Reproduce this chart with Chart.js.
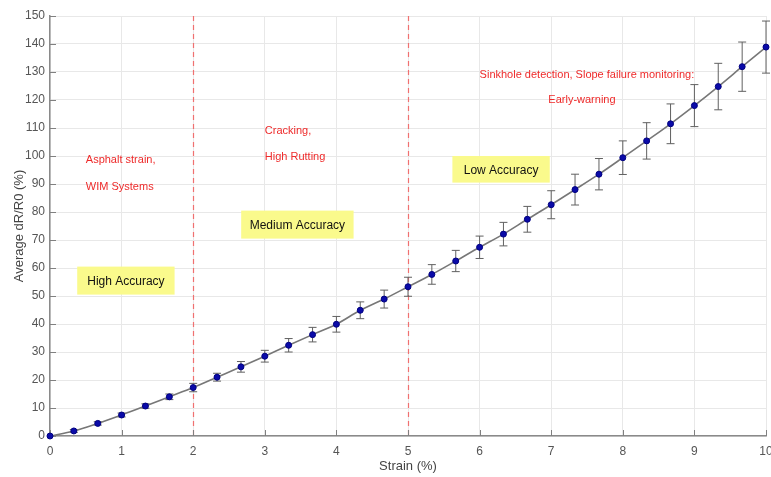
<!DOCTYPE html>
<html>
<head>
<meta charset="utf-8">
<script src="https://cdn.jsdelivr.net/npm/chart.js@4/dist/chart.umd.min.js"></script>
<style>
  html, body { margin: 0; padding: 0; background: #fff; }
  #wrap { width: 771px; height: 477px; }
</style>
</head>
<body>
<div id="wrap"><canvas id="chart1" width="771" height="477"></canvas></div>
<script>
// values
var strain = [0, 0.333, 0.667, 1, 1.333, 1.667, 2, 2.333, 2.667, 3, 3.333, 3.667, 4, 4.333, 4.667,
    5, 5.333, 5.667, 6, 6.333, 6.667, 7, 7.333, 7.667, 8, 8.333, 8.667, 9, 9.333, 9.667, 10];
var avgResistance = [0, 1.8, 4.5, 7.5, 10.7, 14, 17.3, 21, 24.7, 28.5, 32.4, 36.2, 39.9, 44.9, 48.9,
    53.3, 57.7, 62.5, 67.4, 72.1, 77.4, 82.6, 88, 93.5, 99.4, 105.4, 111.5, 118, 124.8, 131.9, 138.9];
var errHalf = [0, 0.5, 0.6, 0.7, 0.8, 1.0, 1.5, 1.4, 1.9, 2.1, 2.4, 2.6, 2.8, 3.0, 3.2,
    3.4, 3.5, 3.8, 4.0, 4.2, 4.6, 5.0, 5.5, 5.6, 6.0, 6.5, 7.1, 7.5, 8.3, 8.8, 9.3];
var xTicks = [0, 1, 2, 3, 4, 5, 6, 7, 8, 9, 10];
var yTicks = [0, 10, 20, 30, 40, 50, 60, 70, 80, 90, 100, 110, 120, 130, 140, 150];
var zoneLimits = [2, 5];

// annotations: [text, x, y] in data units
var redNotes = [
    ['Asphalt strain,', 0.5, 98.5],
    ['WIM Systems', 0.5, 89],
    ['Cracking,', 3.0, 109],
    ['High Rutting', 3.0, 99.5],
    ['Sinkhole detection, Slope failure monitoring:', 6.0, 129],
    ['Early-warning', 6.96, 120]
];
var boxNotes = [
    ['High Accuracy', 0.38, 1.74, 50.5, 60.5],
    ['Medium Accuracy', 2.67, 4.24, 70.5, 80.5],
    ['Low Accuracy', 5.62, 6.98, 90.5, 100]
];

var points = strain.map(function(s, i) { return { x: s, y: avgResistance[i] }; });

var extrasPlugin = {
    id: 'extras',
    beforeDatasetsDraw: function(chart) {
        var c = chart.ctx, xs = chart.scales.x, ys = chart.scales.y, a = chart.chartArea;
        c.save();
        // yellow boxes
        boxNotes.forEach(function(b) {
            var x0 = xs.getPixelForValue(b[1]), x1 = xs.getPixelForValue(b[2]);
            var y0 = ys.getPixelForValue(b[4]), y1 = ys.getPixelForValue(b[3]);
            c.fillStyle = '#fafa8c';
            c.fillRect(x0, y0, x1 - x0, y1 - y0);
            c.fillStyle = '#111';
            c.font = '12px "Liberation Sans", Arial, sans-serif';
            c.textAlign = 'center';
            c.textBaseline = 'middle';
            c.fillText(b[0], (x0 + x1) / 2, (y0 + y1) / 2 + 1);
        });
        // zone limits
        c.strokeStyle = '#f07070';
        c.lineWidth = 1.2;
        c.setLineDash([5, 4]);
        zoneLimits.forEach(function(v) {
            var px = Math.round(xs.getPixelForValue(v)) + 0.5;
            c.beginPath();
            c.moveTo(px, a.top);
            c.lineTo(px, a.bottom);
            c.stroke();
        });
        c.setLineDash([]);
        // inward tick marks
        c.strokeStyle = '#808080';
        c.lineWidth = 1;
        xTicks.forEach(function(v) {
            var px = Math.round(xs.getPixelForValue(v)) + 0.5;
            c.beginPath(); c.moveTo(px, a.bottom); c.lineTo(px, a.bottom - 6); c.stroke();
        });
        yTicks.forEach(function(v) {
            var py = Math.round(ys.getPixelForValue(v)) + 0.5;
            c.beginPath(); c.moveTo(a.left, py); c.lineTo(a.left + 6, py); c.stroke();
        });
        // red notes
        c.fillStyle = '#ee2a2a';
        c.font = '11px "Liberation Sans", Arial, sans-serif';
        c.textAlign = 'left';
        c.textBaseline = 'middle';
        redNotes.forEach(function(n) {
            c.fillText(n[0], xs.getPixelForValue(n[1]), ys.getPixelForValue(n[2]));
        });
        // error bars
        c.strokeStyle = '#606060';
        c.lineWidth = 1;
        strain.forEach(function(s, i) {
            if (!errHalf[i]) return;
            var px = xs.getPixelForValue(s);
            var yt = ys.getPixelForValue(avgResistance[i] + errHalf[i]);
            var yb = ys.getPixelForValue(avgResistance[i] - errHalf[i]);
            c.beginPath();
            c.moveTo(px, yt); c.lineTo(px, yb);
            c.moveTo(px - 4, yt); c.lineTo(px + 4, yt);
            c.moveTo(px - 4, yb); c.lineTo(px + 4, yb);
            c.stroke();
        });
        c.restore();
    }
};

var ctx1 = document.getElementById('chart1').getContext('2d');
new Chart(ctx1, {
    type: 'scatter',
    plugins: [extrasPlugin],
    data: {
        datasets: [{
            data: points,
            showLine: true,
            borderColor: '#777777',
            borderWidth: 1.6,
            cubicInterpolationMode: 'monotone',
            pointRadius: 3,
            pointBackgroundColor: '#0a0aa8',
            pointBorderColor: '#000080',
            pointBorderWidth: 1,
            clip: false
        }]
    },
    options: {
        responsive: false,
        animation: false,
        layout: { padding: { left: 0, right: 2, top: 16, bottom: 0 } },
        plugins: { legend: { display: false }, tooltip: { enabled: false } },
        scales: {
            x: {
                type: 'linear', min: 0, max: 10,
                afterBuildTicks: function(s) { s.ticks = xTicks.map(function(v) { return { value: v }; }); },
                afterFit: function(s) { s.height = 41; s.paddingLeft = 0; s.paddingRight = 0; },
                grid: { color: '#e8e8e8', drawTicks: false },
                border: { color: '#8a8a8a', width: 1.5 },
                ticks: { color: '#555', padding: 8, maxRotation: 0,
                    font: { family: '"Liberation Sans", Arial, sans-serif', size: 12 } },
                title: { display: true, text: 'Strain (%)', color: '#444', padding: { top: 2, bottom: 3 },
                    font: { family: '"Liberation Sans", Arial, sans-serif', size: 13 } }
            },
            y: {
                type: 'linear', min: 0, max: 150,
                afterBuildTicks: function(s) { s.ticks = yTicks.map(function(v) { return { value: v }; }); },
                afterFit: function(s) { s.width = 50; s.paddingTop = 0; s.paddingBottom = 0; },
                grid: { color: '#e8e8e8', drawTicks: false },
                border: { color: '#8a8a8a', width: 1.5 },
                ticks: { color: '#555', padding: 5,
                    font: { family: '"Liberation Sans", Arial, sans-serif', size: 12 } },
                title: { display: true, text: 'Average dR/R0 (%)', color: '#444', padding: { top: 12, bottom: 2 },
                    font: { family: '"Liberation Sans", Arial, sans-serif', size: 13 } }
            }
        }
    }
});
</script>
</body>
</html>
